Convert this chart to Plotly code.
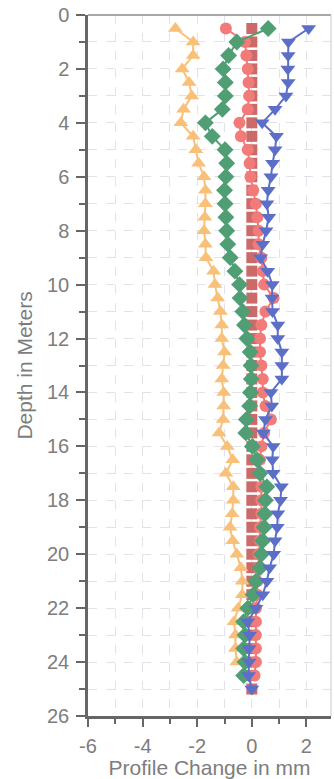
import plotly.graph_objects as go

# Depths (m), sampled every 0.5 m
depth_ref = [0.5 * i for i in range(1, 51)]        # 0.5 .. 25.0
depth_orange = [0.5 * i for i in range(1, 49)]     # 0.5 .. 24.0
depth_green = [0.5 * i for i in range(1, 50)]      # 0.5 .. 24.5
depth_red = [0.5 * i for i in range(1, 50)]        # 0.5 .. 24.5
depth_blue = [0.5 * i for i in range(1, 51)]       # 0.5 .. 25.0

# Profile change (mm) for each survey
ref_vals = [0.0] * 50
orange_vals = [-2.8, -2.15, -2.15, -2.55, -2.3, -2.2, -2.5, -2.6, -2.15, -2.05,
               -1.95, -1.75, -1.7, -1.7, -1.72, -1.75, -1.7, -1.68, -1.4, -1.35,
               -1.25, -1.15, -1.1, -1.1, -1.0, -1.05, -1.1, -1.03, -1.03, -1.05,
               -1.2, -0.9, -0.7, -0.95, -0.68, -0.68, -0.72, -0.8, -0.7, -0.55,
               -0.4, -0.35, -0.35, -0.5, -0.65, -0.6, -0.6, -0.55]
green_vals = [0.6, -0.55, -0.85, -1.05, -0.97, -0.97, -1.08, -1.7, -1.45, -0.98,
              -0.92, -0.95, -1.0, -0.98, -0.95, -0.92, -0.88, -0.79, -0.62, -0.45,
              -0.43, -0.33, -0.27, -0.18, -0.06, -0.03, -0.02, -0.05, -0.08, -0.2,
              -0.22, 0.02, 0.2, 0.3, 0.55, 0.5, 0.48, 0.45, 0.4, 0.35,
              0.3, 0.15, 0.05, -0.15, -0.3, -0.25, -0.3, -0.25, -0.3]
red_vals = [-0.95, -0.25, -0.2, -0.15, -0.12, -0.1, -0.15, -0.45, -0.4, -0.15,
            -0.08, -0.05, 0.05, 0.15, 0.2, 0.25, 0.25, 0.35, 0.4, 0.45,
            0.8, 0.5, 0.35, 0.3, 0.3, 0.35, 0.4, 0.4, 0.5, 0.7,
            0.45, 0.35, 0.3, 0.3, 0.35, 0.35, 0.35, 0.3, 0.3, 0.25,
            0.25, 0.2, 0.2, 0.15, 0.15, 0.15, 0.15, 0.15, 0.1]
blue_vals = [2.08, 1.34, 1.33, 1.32, 1.33, 1.25, 0.85, 0.38, 0.9, 0.85,
             0.76, 0.7, 0.6, 0.55, 0.62, 0.52, 0.4, 0.32, 0.58, 0.75,
             0.74, 0.76, 0.95, 0.95, 1.1, 1.1, 1.1, 0.7, 0.73, 0.5,
             0.42, 0.78, 0.75, 0.78, 1.08, 1.05, 0.95, 0.93, 0.85, 0.8,
             0.65, 0.55, 0.4, 0.15, -0.15, -0.08, -0.1, -0.1, -0.12, 0.0]

x_ticks = [-6, -4, -2, 0, 2]
x_tick_labels = ["-6", "-4", "-2", "0", "2"]
y_ticks = list(range(0, 27, 2))

fig = go.Figure()

def add_series(x, y, color, symbol, size, mode="lines+markers"):
    fig.add_trace(go.Scatter(
        x=x, y=y, mode=mode,
        line=dict(color=color, width=2),
        marker=dict(symbol=symbol, size=size, color=color, line=dict(width=0)),
        showlegend=False, hoverinfo="x+y"))

add_series(ref_vals, depth_ref, "#cc6a6a", "square", 11, mode="markers")
add_series(red_vals, depth_red, "#f27a78", "circle", 12)
add_series(orange_vals, depth_orange, "#f9c079", "triangle-up", 13)
add_series(green_vals, depth_green, "#4f9e74", "diamond", 13)
add_series(blue_vals, depth_blue, "#5b6fc9", "triangle-down", 13)

label_font = dict(family="Liberation Sans, Arial, sans-serif", size=20, color="#7d7d7d")
title_font = dict(family="Liberation Sans, Arial, sans-serif", size=21, color="#7d7d7d")
grid = dict(showgrid=True, gridcolor="#e2e2ea", griddash="dash", gridwidth=1)

fig.update_layout(
    width=334, height=779,
    margin=dict(l=88, r=3, t=15, b=63),
    paper_bgcolor="white", plot_bgcolor="white",
    font=label_font,
    xaxis=dict(
        range=[-6, 2.9], tickvals=x_ticks, ticktext=x_tick_labels,
        ticks="outside", ticklen=8, tickwidth=2, tickcolor="#666666",
        showline=True, linecolor="#666666", linewidth=2.5,
        zeroline=False, tickfont=label_font, ticklabelstandoff=2,
        minor=dict(dtick=1, tick0=0, ticks="outside", ticklen=5, tickwidth=2,
                   tickcolor="#666666", **grid),
        title=dict(text="Profile Change in mm", standoff=0, font=title_font),
        **grid,
    ),
    yaxis=dict(
        range=[26, 0], tickvals=y_ticks, ticks="outside", ticklen=9, tickwidth=2,
        tickcolor="#666666", showline=True, linecolor="#666666", linewidth=2.5,
        zeroline=False, tickfont=label_font, ticklabelstandoff=3,
        minor=dict(dtick=1, tick0=0, ticks="outside", ticklen=6, tickwidth=2,
                   tickcolor="#666666", **grid),
        title=dict(text="Depth in Meters", standoff=9, font=title_font),
        **grid,
    ),
)

# Frame along the top and right edges of the plotting area
fig.add_shape(type="line", xref="paper", yref="paper", x0=0, x1=1, y0=1, y1=1,
              line=dict(color="#8a8a8a", width=1.5))
fig.add_shape(type="line", xref="paper", yref="paper", x0=1, x1=1, y0=0, y1=1,
              line=dict(color="#c8c8c8", width=1))

fig.write_html("out.html")
